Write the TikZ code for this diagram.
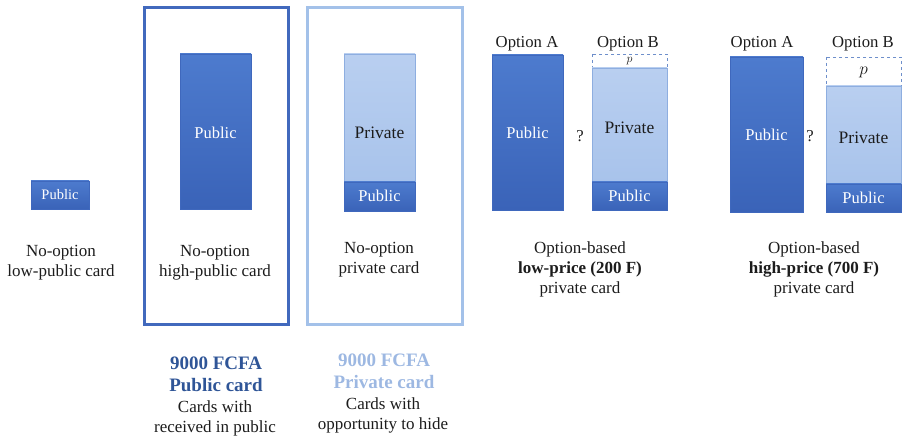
\documentclass[tikz,border=0pt]{standalone}
\usepackage{fontspec}
\setmainfont{Liberation Serif}
\usetikzlibrary{positioning}
\definecolor{pubtop}{HTML}{4D7BCE}
\definecolor{pubbot}{HTML}{3A63B8}
\definecolor{pubedge}{HTML}{3F68BD}
\definecolor{privtop}{HTML}{B9CFF0}
\definecolor{privbot}{HTML}{A8C3EB}
\definecolor{privedge}{HTML}{8EAEE0}
\definecolor{darkframe}{HTML}{4169BD}
\definecolor{lightframe}{HTML}{A3C1E9}
\definecolor{dashblue}{HTML}{6E8FCB}
\definecolor{ink}{HTML}{1C1C1C}
\definecolor{pubtitle}{HTML}{2F5597}
\definecolor{privtitle}{HTML}{9DB8E2}
\tikzset{
  pub/.style={top color=pubtop, bottom color=pubbot, draw=pubedge, line width=.6pt},
  priv/.style={top color=privtop, bottom color=privbot, draw=privedge, line width=.6pt},
  extra/.style={fill=white, draw=dashblue, dashed, line width=.8pt},
  frame/.style={line width=3pt},
  boxlbl/.style={font=\fontsize{16.5}{18}\selectfont, text=white},
  privlbl/.style={font=\fontsize{17.5}{19}\selectfont, text=ink},
  optlbl/.style={font=\fontsize{16.7}{18}\selectfont, text=ink},
  captxt/.style={align=center, font=\fontsize{17}{20}\selectfont, text=ink},
  titletxt/.style={align=center, font=\fontsize{19}{22}\selectfont\bfseries},
}
\begin{document}
\begin{tikzpicture}[x=1pt,y=-1pt]
  \useasboundingbox (0,0) rectangle (905,438);
  % frames
  \draw[frame, darkframe] (144.5,7.5) rectangle (288.5,325);
  \draw[frame, lightframe] (307.5,7.5) rectangle (462,324.5);

  % no-option low-public
  \draw[pub] (31,181) rectangle (89,209);
  \node[boxlbl, font=\fontsize{14.5}{16}\selectfont] (lowpub) at (60,195) {Public};
  \node[captxt] (lowcap) at (61,263) {No-option\\low-public card};

  % no-option high-public
  \draw[pub] (180,54) rectangle (251,209);
  \node[boxlbl] (highpub) at (215.5,133) {Public};
  \node[captxt] (highcap) at (215,263) {No-option\\high-public card};

  % no-option private
  \draw[priv] (344,54) rectangle (415,182);
  \draw[pub] (344,182) rectangle (415,211);
  \node[privlbl] (privtxt) at (379.5,133) {Private};
  \node[boxlbl] (privpub) at (379.5,196) {Public};
  \node[captxt] (privcap) at (379,260) {No-option\\private card};

  % option-based low price
  \node[optlbl] (lowA) at (527,44) {Option A};
  \node[optlbl] (lowB) at (628,44) {Option B};
  \draw[pub] (492,55) rectangle (563,210);
  \node[boxlbl] (lowApub) at (527.5,133) {Public};
  \node[optlbl] (lowq) at (580,136) {?};
  \draw[extra] (592,54) rectangle (667,68);
  \draw[priv] (592,68) rectangle (667,182);
  \draw[pub] (592,182) rectangle (667,210);
  \node[optlbl, inner sep=0pt] (lowp) at (629.5,61) {\fontsize{12}{12}\selectfont$p$};
  \node[privlbl] (lowBpriv) at (629.5,128) {Private};
  \node[boxlbl] (lowBpub) at (629.5,196) {Public};
  \node[captxt] (lowcapB) at (580,269) {Option-based\\\textbf{low-price (200 F)}\\private card};

  % option-based high price
  \node[optlbl] (highA) at (762,44) {Option A};
  \node[optlbl] (highB) at (863,44) {Option B};
  \draw[pub] (730,57) rectangle (803,212);
  \node[boxlbl] (highApub) at (766.5,135) {Public};
  \node[optlbl] (highq) at (810,136) {?};
  \draw[extra] (826,57) rectangle (901,86);
  \draw[priv] (826,86) rectangle (901,184);
  \draw[pub] (826,184) rectangle (901,212);
  \node[optlbl] (highp) at (863.5,72) {$p$};
  \node[privlbl] (highBpriv) at (863.5,138) {Private};
  \node[boxlbl] (highBpub) at (863.5,198) {Public};
  \node[captxt] (highcapB) at (814,269) {Option-based\\\textbf{high-price (700 F)}\\private card};

  % bottom titles
  \node[titletxt, text=pubtitle] (pubcard) at (216,374) {9000 FCFA\\Public card};
  \node[captxt] (pubnote) at (215,418) {Cards with\\received in public};
  \node[titletxt, text=privtitle] (privcard) at (384,371) {9000 FCFA\\Private card};
  \node[captxt] (privnote) at (383,415) {Cards with\\opportunity to hide};
\end{tikzpicture}
\end{document}
